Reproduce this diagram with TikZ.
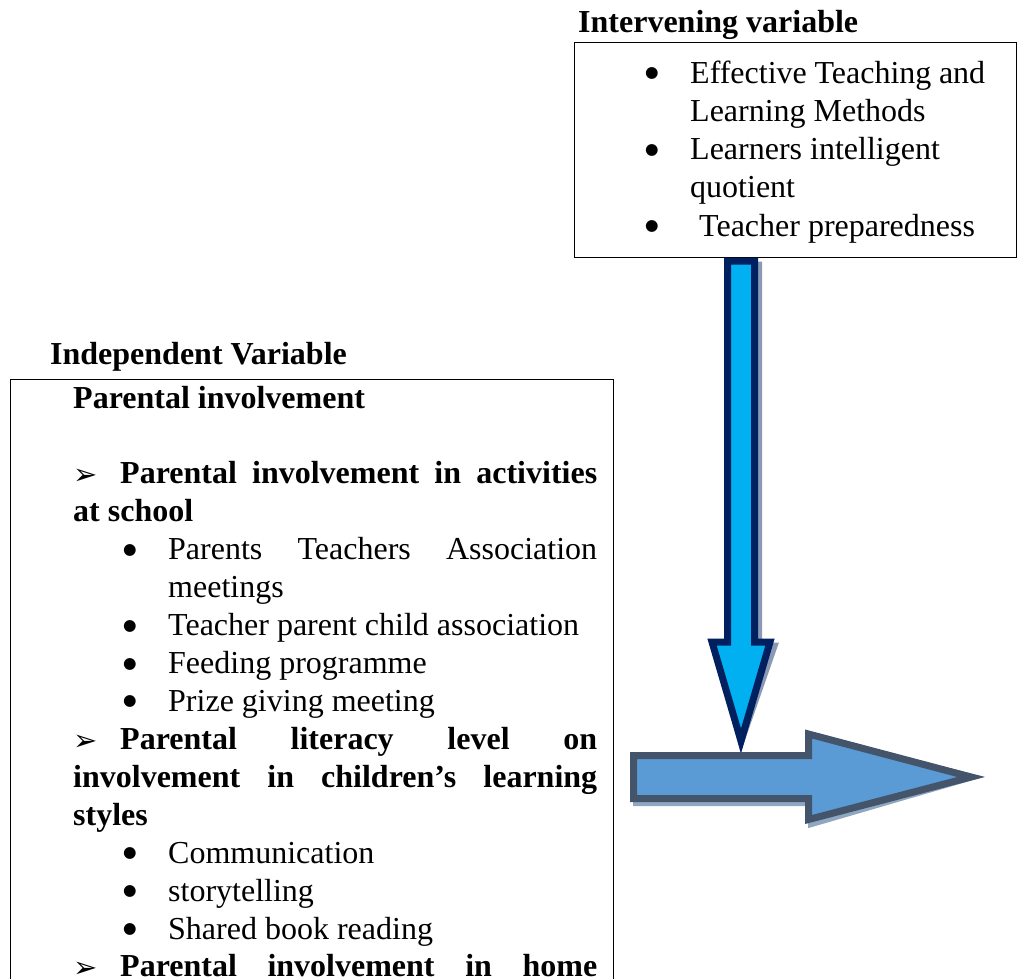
\documentclass[tikz,border=0pt]{standalone}
\usepackage{fontspec}
\setmainfont{Liberation Serif}
\newfontfamily\dingfont{DejaVu Sans}
\usetikzlibrary{calc}

\definecolor{downfill}{HTML}{00B0F0}
\definecolor{downline}{HTML}{002060}
\definecolor{downshade}{HTML}{8A99B4}
\definecolor{rightfill}{HTML}{5B9BD5}
\definecolor{rightline}{HTML}{44546A}
\definecolor{rightshade}{HTML}{8FA7C1}

% list marks and lines
\newcommand{\blt}{\raisebox{5.5pt}{\dingfont\fontsize{15.5}{15.5}\selectfont ●}}
\newcommand{\arrowhd}[1]{\makebox[47pt][l]{\raisebox{-1pt}{\dingfont\fontsize{29}{29}\selectfont ➢}}\makebox[477pt][s]{\bfseries #1}}
\newcommand{\bitem}[1]{\hspace*{50pt}\makebox[45pt][l]{\blt}#1}
\newcommand{\bitemj}[1]{\hspace*{50pt}\makebox[45pt][l]{\blt}\makebox[429pt][s]{#1}}

\begin{document}
\begin{tikzpicture}[x=1pt,y=-1pt,
    every node/.style={inner sep=0pt,font=\fontsize{32}{37.93}\selectfont},
    varbox/.style={draw=black,line width=1.4pt,rectangle,anchor=north west},
    head/.style={anchor=base west,font=\fontsize{32}{37.93}\selectfont\bfseries},
    blockarrow/.style={line width=7pt,line join=miter}]
  \useasboundingbox (0,0) rectangle (1017,978);

  % intervening variable
  \node[head] (intlabel) at (578,32) {Intervening variable};
  \node[varbox,minimum width=442pt,minimum height=215pt] (intbox) at (574,42) {};
  \node[anchor=base west] (inttext) at (645,83) {\parbox[t]{340pt}{\fontsize{32}{38.25}\selectfont
    \makebox[45pt][l]{\blt}Effective Teaching and\\
    \hspace*{45pt}Learning Methods\\
    \makebox[45pt][l]{\blt}Learners intelligent\\
    \hspace*{45pt}quotient\\
    \makebox[45pt][l]{\blt}\hspace{9pt}Teacher preparedness}};

  % independent variable
  \node[head] (indlabel) at (50,364) {Independent Variable};
  \node[varbox,minimum width=603pt,minimum height=700pt] (indbox) at (10,379) {};
  \node[anchor=base west] (indtext) at (73,408) {\parbox[t]{524pt}{\fontsize{32}{37.93}\selectfont
    \textbf{Parental involvement}\\
    \mbox{}\\
    \arrowhd{Parental involvement in activities}\\
    \textbf{at school}\\
    \bitemj{Parents Teachers Association}\\
    \hspace*{95pt}meetings\\
    \bitem{Teacher parent child association}\\
    \bitem{Feeding programme}\\
    \bitem{Prize giving meeting}\\
    \arrowhd{Parental literacy level on}\\
    \makebox[524pt][s]{\bfseries involvement in children’s learning}\\
    \textbf{styles}\\
    \bitem{Communication}\\
    \bitem{storytelling}\\
    \bitem{Shared book reading}\\
    \arrowhd{Parental involvement in home}}};

  % block arrows
  \coordinate (vtip) at (741,741);
  \coordinate (htip) at (971,777);
  \draw[blockarrow,draw=downshade,fill=downshade,shift={(4,4)}]
    (727.5,261) -- (754.5,261) -- (754.5,642) -- (770,642) -- (vtip)
    -- (712,642) -- (727.5,642) -- cycle;
  \draw[blockarrow,draw=downline,fill=downfill]
    (727.5,261) -- (754.5,261) -- (754.5,642) -- (770,642) -- (vtip)
    -- (712,642) -- (727.5,642) -- cycle;
  \draw[blockarrow,draw=rightshade,fill=rightshade,shift={(3,4)}]
    (633.5,755.5) -- (808.5,755.5) -- (808.5,734) -- (htip)
    -- (808.5,819.5) -- (808.5,798.5) -- (633.5,798.5) -- cycle;
  \draw[blockarrow,draw=rightline,fill=rightfill]
    (633.5,755.5) -- (808.5,755.5) -- (808.5,734) -- (htip)
    -- (808.5,819.5) -- (808.5,798.5) -- (633.5,798.5) -- cycle;
\end{tikzpicture}
\end{document}
